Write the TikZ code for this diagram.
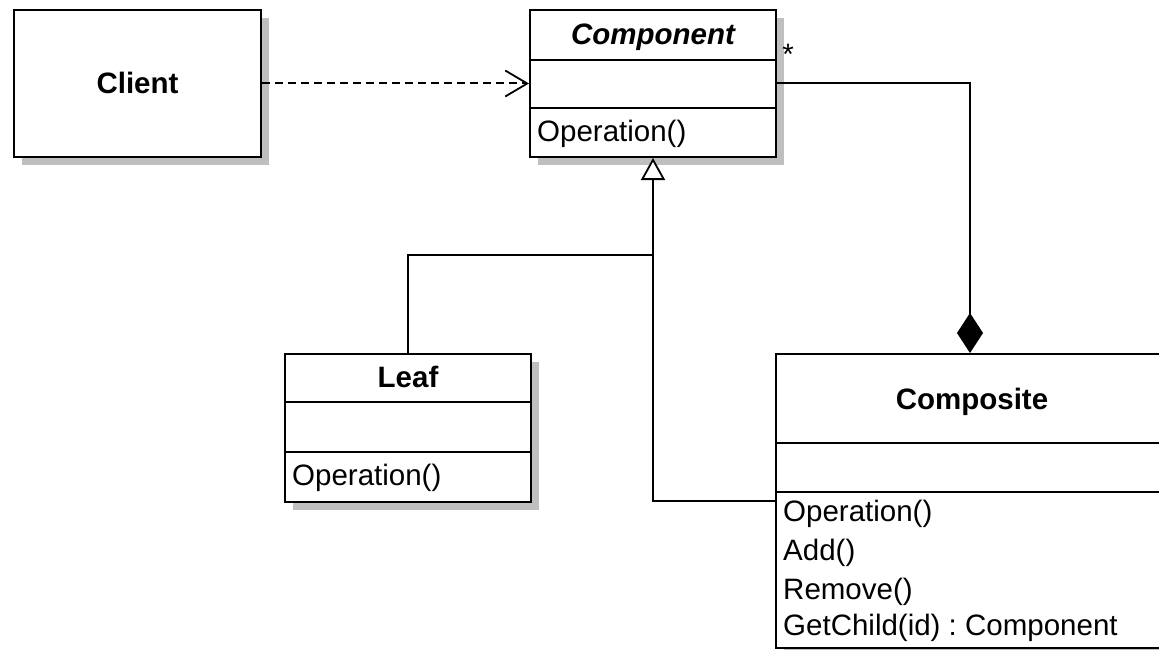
\documentclass[tikz,border=0pt]{standalone}
\usepackage{fontspec}
\setmainfont{Liberation Sans}
\usetikzlibrary{arrows.meta,shadows}
\frenchspacing
\begin{document}
\begin{tikzpicture}[x=1pt,y=-1pt,
  font=\fontsize{29.5}{35}\selectfont,
  classbox/.style={draw=black, line width=2pt, fill=white, rectangle, inner sep=0pt,
    drop shadow={shadow xshift=8pt, shadow yshift=-8pt, fill=black!25, opacity=1}},
  divider/.style={line width=2pt},
  title/.style={font=\fontsize{29.5}{35}\selectfont\bfseries, inner sep=0pt, text height=21pt, text depth=6pt},
  atitle/.style={title, font=\fontsize{29.5}{35}\selectfont\bfseries\itshape},
  member/.style={anchor=west, inner sep=0pt, text height=21pt, text depth=6pt},
  conn/.style={line width=2pt},
  dep/.style={conn, dashed, dash pattern=on 8pt off 5pt, -{Straight Barb[length=22pt, width=26pt, line width=1.8pt]}},
  gen/.style={conn, -{Triangle[open, length=22pt, width=24pt, fill=white, line width=1.8pt]}},
  comp/.style={conn, -{Diamond[length=40pt, width=26pt, line width=1pt]}},
]
\useasboundingbox (0,0) rectangle (1159,650);
\clip (0,0) rectangle (1159,650);

% Client
\node[classbox, minimum width=247pt, minimum height=147pt] (client) at (137.5,83.5) {};
\node[title] (clientt) at (137.5,86) {Client};

% Component
\node[classbox, minimum width=246pt, minimum height=147pt] (component) at (653,83.5) {};
\node[atitle] (componentt) at (653,37) {Component};
\draw[divider] (component.west |- 0,60) -- (component.east |- 0,60);
\draw[divider] (component.west |- 0,108) -- (component.east |- 0,108);
\node[member] (componentop) at (537,134) {Operation()};

% Leaf
\node[classbox, minimum width=246pt, minimum height=148pt] (leaf) at (408,428) {};
\node[title] (leaft) at (408,380) {Leaf};
\draw[divider] (leaf.west |- 0,402) -- (leaf.east |- 0,402);
\draw[divider] (leaf.west |- 0,452) -- (leaf.east |- 0,452);
\node[member] (leafop) at (292,478) {Operation()};

% Composite
\node[classbox, minimum width=388pt, minimum height=294pt] (composite) at (970,501) {};
\node[title] (compositet) at (972,402) {Composite};
\draw[divider] (composite.west |- 0,443) -- (composite.east |- 0,443);
\draw[divider] (composite.west |- 0,492) -- (composite.east |- 0,492);
\node[member] (cop1) at (783,514) {Operation()};
\node[member] (cop2) at (783,553) {Add()};
\node[member] (cop3) at (783,592) {Remove()};
\node[member] (cop4) at (783,628) {GetChild(id) : Component};

% connectors
\draw[dep] (client.east) -- (component.west);
\draw[comp] (component.east) -| (composite.north);
\node[inner sep=0pt] (mult) at (788,54) {*};
\coordinate (joint) at (653,255);
\draw[conn] (leaf.north) |- (joint);
\draw[gen] (composite.west) -| (joint) -- (component.south);
\end{tikzpicture}
\end{document}
